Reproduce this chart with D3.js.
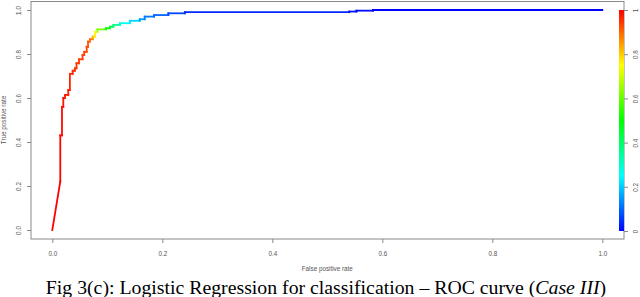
<!DOCTYPE html>
<html>
<head>
<meta charset="utf-8">
<script src="https://cdn.jsdelivr.net/npm/d3@7/dist/d3.min.js"></script>
<style>
    body { margin: 0; background: #fff; }
    text { font-family: "Liberation Sans", Arial, sans-serif; }
    text.caption { font-family: "Liberation Serif", "Times New Roman", serif; }
</style>
</head>
<body>
<svg id="chart"></svg>
<script>
// ROC points (fpr, tpr, cutoff)
const fpr = [0, 0.0145, 0.0145, 0.0176, 0.0176, 0.020, 0.020, 0.023, 0.023, 0.029,
    0.029, 0.032, 0.032, 0.037, 0.037, 0.041, 0.041, 0.044, 0.044, 0.0485,
    0.0485, 0.055, 0.055, 0.058, 0.058, 0.0625, 0.0625, 0.065, 0.065, 0.0685,
    0.0685, 0.0735, 0.0735, 0.0776, 0.0776, 0.082, 0.082, 0.0976, 0.0976, 0.105,
    0.105, 0.111, 0.111, 0.123, 0.123, 0.141, 0.141, 0.159, 0.159, 0.168,
    0.168, 0.185, 0.185, 0.211, 0.211, 0.241, 0.241, 0.54, 0.54, 0.553,
    0.553, 0.583, 0.583, 1.0];
const tpr = [0, 0.22, 0.43, 0.43, 0.56, 0.56, 0.60, 0.60, 0.614, 0.614,
    0.636, 0.636, 0.71, 0.71, 0.724, 0.724, 0.735, 0.735, 0.758, 0.758,
    0.776, 0.776, 0.795, 0.795, 0.81, 0.81, 0.833, 0.833, 0.856, 0.856,
    0.867, 0.867, 0.879, 0.879, 0.901, 0.901, 0.912, 0.912, 0.917, 0.917,
    0.924, 0.924, 0.932, 0.932, 0.94, 0.94, 0.951, 0.951, 0.958, 0.958,
    0.97, 0.97, 0.977, 0.977, 0.985, 0.985, 0.99, 0.99, 0.993, 0.993,
    0.997, 0.997, 1.0, 1.0];
const cutoff = [1.0, 0.995, 0.99, 0.99, 0.985, 0.98, 0.98, 0.975, 0.975, 0.97,
    0.97, 0.965, 0.965, 0.96, 0.96, 0.955, 0.955, 0.95, 0.95, 0.945,
    0.945, 0.94, 0.94, 0.935, 0.935, 0.93, 0.93, 0.92, 0.92, 0.89,
    0.89, 0.86, 0.80, 0.76, 0.74, 0.66, 0.62, 0.52, 0.50, 0.46,
    0.44, 0.40, 0.36, 0.30, 0.27, 0.24, 0.21, 0.17, 0.15, 0.13,
    0.12, 0.11, 0.10, 0.08, 0.07, 0.05, 0.04, 0.03, 0.02, 0.015,
    0.01, 0.005, 0.0, 0.0];

const xTicks = [0, 0.2, 0.4, 0.6, 0.8, 1.0];
const yTicks = [0, 0.2, 0.4, 0.6, 0.8, 1.0];
const colorTicks = [0, 0.2, 0.4, 0.6, 0.8, 1];

const xLabel = "False positive rate",
    yLabel = "True positive rate";

let width = 640,
    height = 297;

let box = { left: 31, top: 1.5, right: 624, bottom: 239 };

let svg = d3.select("#chart").attr("width", width).attr("height", height);

let x = d3.scaleLinear().domain([0, 1]).range([52.3, 602.3]),
    y = d3.scaleLinear().domain([0, 1]).range([230, 10]),
    c = d3.scaleLinear().domain([0, 1]).range([231, 10]);

// rainbow like R: red at cutoff 1, blue at 0
function rainbow(t) {
    return d3.hsl((1 - t) * 240, 1, 0.5).formatHex();
}

let axisColor = "#8a8a8a",
    labelColor = "#555";

// plot box
svg.append("rect")
    .attr("x", box.left)
    .attr("y", box.top)
    .attr("width", box.right - box.left)
    .attr("height", box.bottom - box.top)
    .attr("fill", "none")
    .attr("stroke", axisColor)
    .attr("stroke-width", 1);

// colour bar
let grad = svg.append("defs").append("linearGradient")
    .attr("id", "bar")
    .attr("x1", 0).attr("y1", 1)
    .attr("x2", 0).attr("y2", 0);
d3.range(0, 1.0001, 0.05).forEach(function (t) {
    grad.append("stop").attr("offset", t).attr("stop-color", rainbow(t));
});
svg.append("rect")
    .attr("x", 619)
    .attr("y", c(1))
    .attr("width", box.right - 619)
    .attr("height", c(0) - c(1))
    .attr("fill", "url(#bar)");

// axes
function styleAxis(g) {
    g.select(".domain").remove();
    g.selectAll("line").attr("stroke", axisColor);
    g.selectAll("text")
        .attr("fill", labelColor)
        .attr("font-size", 6.3);
}

svg.append("g")
    .attr("transform", "translate(0," + box.bottom + ")")
    .call(d3.axisBottom(x).tickValues(xTicks).tickFormat(d3.format(".1f")).tickSize(4).tickPadding(9))
    .call(styleAxis);

svg.append("g")
    .attr("transform", "translate(" + box.left + ",0)")
    .call(d3.axisLeft(y).tickValues(yTicks).tickFormat(d3.format(".1f")).tickSize(4))
    .call(styleAxis)
    .selectAll("text")
    .attr("x", 0)
    .attr("dy", "0.35em")
    .attr("text-anchor", "middle")
    .attr("transform", "translate(-12,0) rotate(-90)");

svg.append("g")
    .attr("transform", "translate(" + box.right + ",0)")
    .call(d3.axisRight(c).tickValues(colorTicks).tickFormat(d3.format("")).tickSize(4))
    .call(styleAxis)
    .selectAll("text")
    .attr("x", 0)
    .attr("dy", "0.35em")
    .attr("text-anchor", "middle")
    .attr("transform", "translate(12,0) rotate(-90)");

// axis titles
svg.append("text")
    .attr("x", (x(0) + x(1)) / 2)
    .attr("y", 271)
    .attr("text-anchor", "middle")
    .attr("font-size", 6.3)
    .attr("fill", labelColor)
    .text(xLabel);

svg.append("text")
    .attr("transform", "translate(6," + (y(0) + y(1)) / 2 + ") rotate(-90)")
    .attr("text-anchor", "middle")
    .attr("font-size", 6.3)
    .attr("fill", labelColor)
    .text(yLabel);

// ROC curve, one segment per step, coloured by cutoff
let segs = d3.range(fpr.length - 1).map(function (i) {
    return { x1: fpr[i], y1: tpr[i], x2: fpr[i + 1], y2: tpr[i + 1], c: cutoff[i] };
});

svg.append("g")
    .attr("class", "roc")
    .selectAll("line")
    .data(segs)
    .enter().append("line")
    .attr("x1", function (d) { return x(d.x1); })
    .attr("y1", function (d) { return y(d.y1); })
    .attr("x2", function (d) { return x(d.x2); })
    .attr("y2", function (d) { return y(d.y2); })
    .attr("stroke", function (d) { return rainbow(d.c); })
    .attr("stroke-width", 1.8)
    .attr("stroke-linecap", "square");

// caption
let cap = svg.append("text")
    .attr("class", "caption")
    .attr("x", 326)
    .attr("y", 293.5)
    .attr("text-anchor", "middle")
    .attr("font-size", 19.8)
    .attr("fill", "#000");
cap.append("tspan").text("Fig 3(c): Logistic Regression for classification \u2013 ROC curve (");
cap.append("tspan").attr("font-style", "italic").text("Case III");
cap.append("tspan").text(")");
</script>
</body>
</html>
